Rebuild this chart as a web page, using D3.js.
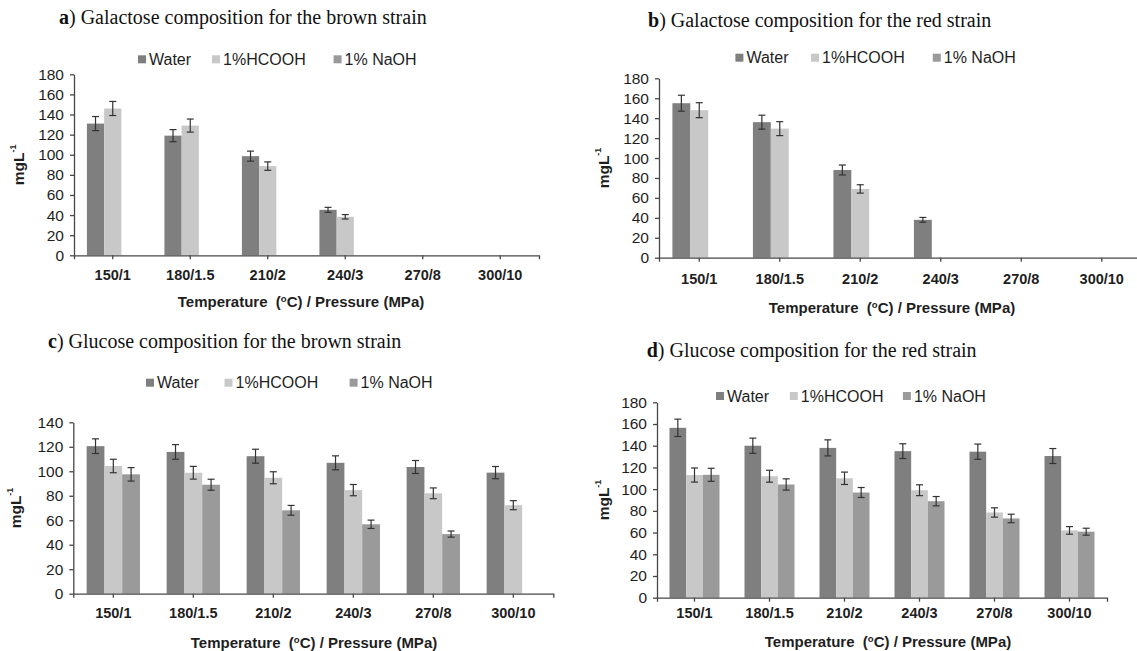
<!DOCTYPE html>
<html lang="en">
<head>
<meta charset="UTF-8">
<title>Galactose and glucose composition</title>
<style>
  *{margin:0;padding:0;}
  body{background:#fff;}
  #container{width:1137px;height:651px;}
</style>
</head>
<body>
<div id="container"></div>
<script src="https://cdn.jsdelivr.net/npm/d3@7"></script>
<script>
// categories and series
var categories = ['150/1', '180/1.5', '210/2', '240/3', '270/8', '300/10']
var series = ['Water', '1%HCOOH', '1% NaOH']
var colors = ['#7f7f7f', '#c8c8c8', '#9a9a9a']

// a) galactose, brown strain
var galBrownWater = [131, 119, 98.6, 45.2, null, null]
var galBrownHCOOH = [146, 129, 88.7, 38.3, null, null]
var galBrownNaOH = [null, null, null, null, null, null]
var galBrownWaterErr = [7, 6, 5, 2.5, null, null]
var galBrownHCOOHErr = [7, 6.5, 4.2, 2.2, null, null]

// b) galactose, red strain
var galRedWater = [155, 136, 88, 38, null, null]
var galRedHCOOH = [148, 129.5, 69, null, null, null]
var galRedNaOH = [null, null, null, null, null, null]
var galRedWaterErr = [8, 7, 5, 2.4, null, null]
var galRedHCOOHErr = [7.5, 7, 4.2, null, null, null]

// c) glucose, brown strain
var gluBrownWater = [120.5, 115.8, 112.3, 106.9, 103.5, 98.9]
var gluBrownHCOOH = [104.3, 98.8, 94.7, 84.6, 82, 72.3]
var gluBrownNaOH = [97.5, 89, 68.1, 56.7, 48.7, null]
var gluBrownWaterErr = [6, 6, 5.7, 5.7, 5.3, 5]
var gluBrownHCOOHErr = [5.5, 5.2, 4.9, 4.6, 4.4, 3.7]
var gluBrownNaOHErr = [5.5, 4.5, 4, 3.4, 2.5, null]

// d) glucose, red strain
var gluRedWater = [156.5, 140, 138, 135, 134.5, 130.5]
var gluRedHCOOH = [113, 111.9, 110, 99, 78.5, 62]
var gluRedNaOH = [113.2, 104.3, 96.9, 88.9, 73, 60.8]
var gluRedWaterErr = [8, 7, 7.4, 6.8, 7, 6.9]
var gluRedHCOOHErr = [6.5, 5.5, 5.7, 5, 4.3, 3.5]
var gluRedNaOHErr = [6, 5.2, 4.6, 4.3, 3.9, 3.2]

var panels = [
  {letter: 'a', title: 'Galactose composition for the brown strain', yMax: 180,
   values: [galBrownWater, galBrownHCOOH, galBrownNaOH], errors: [galBrownWaterErr, galBrownHCOOHErr, null],
   x0: 74, x1: 539, yTop: 74.3, yBase: 255.3, titleX: 59, titleY: 24,
   legendX: [138, 212, 333.6], legendY: 59.3, yTitleX: 19, xLabelY: 275, xTitleX: 301, xTitleY: 301.7},
  {letter: 'b', title: 'Galactose composition for the red strain', yMax: 180,
   values: [galRedWater, galRedHCOOH, galRedNaOH], errors: [galRedWaterErr, galRedHCOOHErr, null],
   x0: 659, x1: 1142, yTop: 78.3, yBase: 257.7, titleX: 648, titleY: 26.7,
   legendX: [735.4, 811, 932.8], legendY: 57.7, yTitleX: 604, xLabelY: 279.3, xTitleX: 892, xTitleY: 307.3},
  {letter: 'c', title: 'Glucose composition for the brown strain', yMax: 140,
   values: [gluBrownWater, gluBrownHCOOH, gluBrownNaOH], errors: [gluBrownWaterErr, gluBrownHCOOHErr, gluBrownNaOHErr],
   x0: 73.3, x1: 553.3, yTop: 422.3, yBase: 593.7, titleX: 48, titleY: 348.3,
   legendX: [146, 224.5, 349.6], legendY: 382.7, yTitleX: 16, xLabelY: 613.3, xTitleX: 314, xTitleY: 642.7},
  {letter: 'd', title: 'Glucose composition for the red strain', yMax: 180,
   values: [gluRedWater, gluRedHCOOH, gluRedNaOH], errors: [gluRedWaterErr, gluRedHCOOHErr, gluRedNaOHErr],
   x0: 657, x1: 1107, yTop: 402.3, yBase: 597.7, titleX: 646.7, titleY: 356.7,
   legendX: [716, 789.8, 902.9], legendY: 396, yTitleX: 604, xLabelY: 613.3, xTitleX: 888, xTitleY: 641.7}
]

var svg = d3.select('#container').append('svg').attr('width', 1137).attr('height', 651)
svg.append('rect').attr('width', 1137).attr('height', 651).attr('fill', '#fff')

var axisColor = '#474747'
var textColor = '#1e1e1e'
var sans = 'Liberation Sans, Arial, sans-serif'

panels.forEach(function(p){
  var g = svg.append('g')

  // title
  var t = g.append('text').attr('x', p.titleX).attr('y', p.titleY)
    .attr('font-family', 'Liberation Serif, Times New Roman, serif').attr('font-size', 20).attr('fill', '#111')
  t.append('tspan').attr('font-weight', 'bold').text(p.letter)
  t.append('tspan').text(') ' + p.title)

  // scales
  var x = d3.scaleBand().domain(categories).range([p.x0, p.x1]).paddingInner(1/3).paddingOuter(1/6)
  var xAxisScale = d3.scaleBand().domain(categories).range([p.x0, p.x1])
  var xs = d3.scaleBand().domain(series).range([0, x.bandwidth()])
  var y = d3.scaleLinear().domain([0, p.yMax]).range([p.yBase, p.yTop])

  // bars + error bars
  series.forEach(function(s, si){
    var vals = p.values[si]
    var errs = p.errors[si]
    var rows = categories.map(function(c, ci){ return {c: c, v: vals[ci], e: errs ? errs[ci] : null} })
      .filter(function(d){ return d.v != null })
    g.selectAll('.bar' + si).data(rows).enter().append('rect')
      .attr('x', function(d){ return x(d.c) + xs(s) })
      .attr('y', function(d){ return y(d.v) })
      .attr('width', xs.bandwidth())
      .attr('height', function(d){ return y(0) - y(d.v) })
      .attr('fill', colors[si])

    var eb = rows.filter(function(d){ return d.e != null })
    var cx = function(d){ return x(d.c) + xs(s) + xs.bandwidth() / 2 }
    var eg = g.selectAll('.err' + si).data(eb).enter().append('g')
      .attr('stroke', '#333').attr('stroke-width', 1.2)
    eg.append('line').attr('x1', cx).attr('x2', cx)
      .attr('y1', function(d){ return y(d.v + d.e) }).attr('y2', function(d){ return y(d.v - d.e) })
    eg.append('line').attr('x1', function(d){ return cx(d) - 3.5 }).attr('x2', function(d){ return cx(d) + 3.5 })
      .attr('y1', function(d){ return y(d.v + d.e) }).attr('y2', function(d){ return y(d.v + d.e) })
    eg.append('line').attr('x1', function(d){ return cx(d) - 3.5 }).attr('x2', function(d){ return cx(d) + 3.5 })
      .attr('y1', function(d){ return y(d.v - d.e) }).attr('y2', function(d){ return y(d.v - d.e) })
  })

  // y axis
  var yAxis = d3.axisLeft(y).tickValues(d3.range(0, p.yMax + 1, 20)).tickSize(4).tickSizeOuter(0).tickPadding(6)
  var ya = g.append('g').attr('transform', 'translate(' + p.x0 + ',0)').call(yAxis)
  ya.selectAll('path, line').attr('stroke', axisColor).attr('stroke-width', 1.3)
  ya.selectAll('text').attr('font-family', sans).attr('font-size', 15.5).attr('fill', textColor)

  // x axis
  var xAxis = d3.axisBottom(xAxisScale).tickSize(4).tickSizeOuter(4).tickPadding(6)
  var xa = g.append('g').attr('transform', 'translate(0,' + p.yBase + ')').call(xAxis)
  xa.selectAll('path, line').attr('stroke', axisColor).attr('stroke-width', 1.3)
  xa.selectAll('text').attr('y', p.xLabelY - p.yBase).attr('dy', '0.35em')
    .attr('font-family', sans).attr('font-size', 14.5).attr('font-weight', 'bold').attr('fill', textColor)

  // y title
  var yt = g.append('text').attr('transform', 'translate(' + p.yTitleX + ',' + ((p.yTop + p.yBase) / 2) + ') rotate(-90)')
    .attr('text-anchor', 'middle').attr('dy', '0.35em')
    .attr('font-family', sans).attr('font-size', 15.5).attr('font-weight', 'bold').attr('fill', textColor)
  yt.append('tspan').text('mgL')
  yt.append('tspan').attr('font-size', 9).attr('dy', '-0.9em').text('-1')

  // x title
  var xt = g.append('text').attr('x', p.xTitleX).attr('y', p.xTitleY).attr('dy', '0.35em')
    .attr('text-anchor', 'middle')
    .attr('font-family', sans).attr('font-size', 15).attr('font-weight', 'bold').attr('fill', textColor)
  xt.append('tspan').text('Temperature\u00a0\u00a0(')
  xt.append('tspan').attr('font-size', 9.5).attr('dy', '-0.5em').text('o')
  xt.append('tspan').attr('dy', '0.35em').text('C) / Pressure (MPa)')

  // legend
  series.forEach(function(s, si){
    g.append('rect').attr('x', p.legendX[si]).attr('y', p.legendY - 4).attr('width', 8).attr('height', 8).attr('fill', colors[si])
    g.append('text').attr('x', p.legendX[si] + 11).attr('y', p.legendY).attr('dy', '0.35em')
      .attr('font-family', sans).attr('font-size', 16).attr('fill', textColor)
      .text(s)
  })
})
</script>
</body>
</html>
